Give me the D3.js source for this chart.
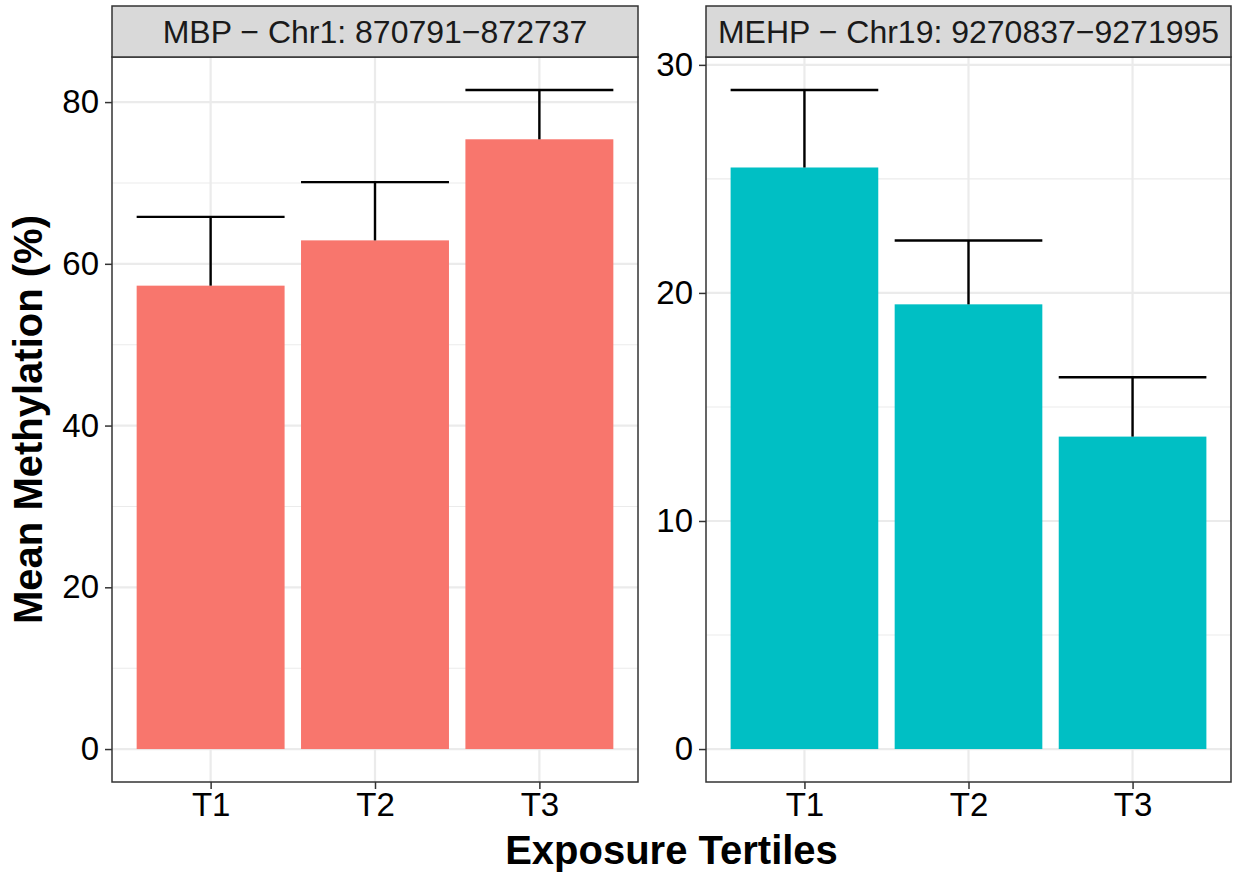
<!DOCTYPE html>
<html>
<head>
<meta charset="utf-8">
<script src="https://cdn.jsdelivr.net/npm/d3@7"></script>
<style>
  body { margin: 0; background: #fff; }
  svg { display: block; font-family: "Liberation Sans", Arial, sans-serif; }
  .grid-major line { stroke: #ebebeb; stroke-width: 2.2; }
  .grid-minor line { stroke: #ebebeb; stroke-width: 1.1; }
  .axis path { display: none; }
  .axis line { stroke: #333; stroke-width: 1.5; }
  .axis text { fill: #000; font-size: 33px; }
</style>
</head>
<body>
<svg id="chart" width="1239" height="875"></svg>
<script>
// data
const tertiles = ["T1", "T2", "T3"]
const mbpLabel = "MBP \u2212 Chr1: 870791\u2212872737"
const mbpMean = [57.3, 62.9, 75.4]
const mbpUpper = [65.8, 70.1, 81.5]
const mbpTicks = [0, 20, 40, 60, 80]

const mehpLabel = "MEHP \u2212 Chr19: 9270837\u22129271995"
const mehpMean = [25.5, 19.5, 13.7]
const mehpUpper = [28.9, 22.3, 16.3]
const mehpTicks = [0, 10, 20, 30]

const svg = d3.select("#chart")
const stripTop = 6, stripH = 51
const panelTop = stripTop + stripH, panelBottom = 782

function drawPanel(x0, x1, label, means, uppers, ticks, color) {
  const g = svg.append("g")
  const w = x1 - x0

  // ggplot-like 5% expansion on the continuous axis
  const hi = d3.max(uppers)
  const y = d3.scaleLinear()
    .domain([-0.05 * hi, hi * 1.05])
    .range([panelBottom, panelTop])

  // discrete axis: 0.6 expansion each side
  const x = d3.scalePoint()
    .domain(tertiles)
    .range([x0 + w * 0.6 / 3.2, x1 - w * 0.6 / 3.2])
  const step = x.step()

  // minor grid (half way between major ticks)
  const half = (ticks[1] - ticks[0]) / 2
  const minor = ticks.map(t => t + half).filter(v => y(v) > panelTop)
  g.append("g").attr("class", "grid-minor")
    .selectAll("line").data(minor).enter().append("line")
    .attr("x1", x0).attr("x2", x1)
    .attr("y1", d => y(d)).attr("y2", d => y(d))

  g.append("g").attr("class", "grid-major")
    .selectAll("line").data(ticks).enter().append("line")
    .attr("x1", x0).attr("x2", x1)
    .attr("y1", d => y(d)).attr("y2", d => y(d))

  g.append("g").attr("class", "grid-major")
    .selectAll("line").data(tertiles).enter().append("line")
    .attr("x1", d => x(d)).attr("x2", d => x(d))
    .attr("y1", panelTop).attr("y2", panelBottom)

  const rows = tertiles.map((t, i) => ({ t: t, mean: means[i], upper: uppers[i] }))
  const bw = step * 0.9

  g.selectAll(".bar").data(rows).enter().append("rect")
    .attr("class", "bar")
    .attr("x", d => x(d.t) - bw / 2)
    .attr("y", d => y(d.mean))
    .attr("width", bw)
    .attr("height", d => y(0) - y(d.mean))
    .attr("fill", color)

  // error bars (upper only)
  g.selectAll(".err-v").data(rows).enter().append("line")
    .attr("x1", d => x(d.t)).attr("x2", d => x(d.t))
    .attr("y1", d => y(d.mean)).attr("y2", d => y(d.upper))
    .attr("stroke", "#000").attr("stroke-width", 2.4)
  g.selectAll(".err-h").data(rows).enter().append("line")
    .attr("x1", d => x(d.t) - bw / 2).attr("x2", d => x(d.t) + bw / 2)
    .attr("y1", d => y(d.upper)).attr("y2", d => y(d.upper))
    .attr("stroke", "#000").attr("stroke-width", 2.4)

  // panel border
  g.append("rect")
    .attr("x", x0).attr("y", panelTop)
    .attr("width", w).attr("height", panelBottom - panelTop)
    .attr("fill", "none").attr("stroke", "#333").attr("stroke-width", 1.5)

  // strip
  g.append("rect")
    .attr("x", x0).attr("y", stripTop)
    .attr("width", w).attr("height", stripH)
    .attr("fill", "#d9d9d9").attr("stroke", "#333").attr("stroke-width", 1.5)
  g.append("text")
    .attr("x", (x0 + x1) / 2).attr("y", stripTop + stripH / 2)
    .attr("dy", "0.35em")
    .attr("text-anchor", "middle")
    .attr("fill", "#1a1a1a")
    .style("font-size", "32px")
    .text(label)

  // axes
  g.append("g").attr("class", "axis")
    .attr("transform", `translate(${x0},0)`)
    .call(d3.axisLeft(y).tickValues(ticks).tickSize(7).tickPadding(6))

  g.append("g").attr("class", "axis")
    .attr("transform", `translate(0,${panelBottom})`)
    .call(d3.axisBottom(x).tickSize(7).tickPadding(4))
}

drawPanel(112, 638, mbpLabel, mbpMean, mbpUpper, mbpTicks, "#F8766D")
drawPanel(706, 1231, mehpLabel, mehpMean, mehpUpper, mehpTicks, "#00BFC4")

// axis titles
svg.append("text")
  .attr("x", (112 + 1231) / 2).attr("y", 864)
  .attr("text-anchor", "middle")
  .style("font-size", "40px").style("font-weight", "bold")
  .text("Exposure Tertiles")

svg.append("text")
  .attr("transform", `translate(42,${(panelTop + panelBottom) / 2}) rotate(-90)`)
  .attr("text-anchor", "middle")
  .style("font-size", "40px").style("font-weight", "bold")
  .text("Mean Methylation (%)")
</script>
</body>
</html>
